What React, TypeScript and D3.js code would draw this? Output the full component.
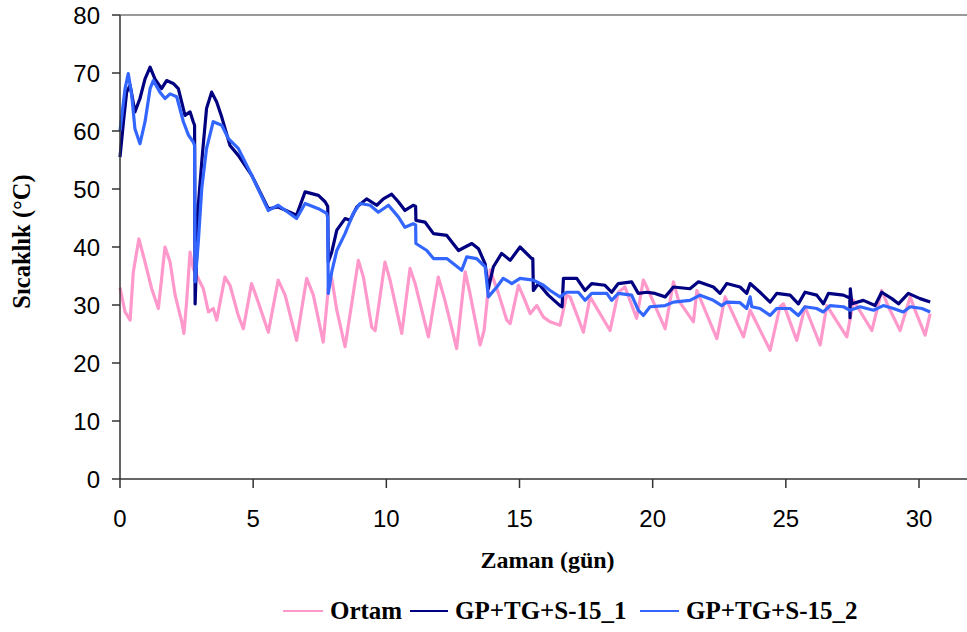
import React from "react";
import * as d3 from "d3";

// Ambient temperature (Ortam)
const ortamDays = [0, 0.19, 0.38, 0.5, 0.71, 0.94, 1.19, 1.44, 1.69, 1.88, 2.07, 2.32, 2.4, 2.5, 2.63, 2.75, 2.88, 3.13, 3.32, 3.5, 3.63, 3.94, 4.13, 4.44, 4.63, 4.94, 5.19, 5.57, 5.94, 6.2, 6.63, 7.01, 7.26, 7.63, 7.82, 7.95, 8.14, 8.45, 8.7, 8.95, 9.14, 9.45, 9.58, 9.95, 10.14, 10.58, 10.89, 11.08, 11.58, 11.95, 12.2, 12.64, 12.96, 13.14, 13.52, 13.67, 13.9, 14.21, 14.52, 14.65, 14.96, 15.15, 15.4, 15.65, 15.9, 16.15, 16.52, 16.77, 16.9, 17.4, 17.65, 18.4, 18.71, 18.96, 19.4, 19.65, 19.78, 20.47, 20.78, 20.97, 21.53, 21.66, 22.41, 22.72, 23.41, 23.66, 23.91, 24.41, 24.78, 24.91, 25.41, 25.72, 26.29, 26.54, 27.29, 27.54, 28.23, 28.6, 28.85, 29.29, 29.67, 29.85, 30.23, 30.42];
const ortamTemps = [33.0, 28.8, 27.4, 35.7, 41.4, 37.4, 32.8, 29.4, 40.0, 37.4, 31.7, 27.1, 25.1, 30.5, 39.1, 36.3, 35.1, 32.8, 28.8, 29.4, 27.4, 34.8, 33.4, 28.2, 25.9, 33.7, 30.5, 25.3, 34.3, 31.7, 23.9, 34.6, 31.7, 23.6, 32.8, 34.6, 29.1, 22.8, 30.2, 37.7, 34.8, 26.2, 25.6, 37.4, 34.3, 25.1, 36.3, 33.7, 24.5, 34.8, 30.8, 22.5, 35.7, 32.0, 23.1, 25.6, 36.0, 32.0, 27.4, 26.8, 33.4, 31.4, 28.5, 29.9, 27.9, 27.1, 26.5, 31.7, 31.4, 25.3, 31.4, 25.6, 32.2, 33.1, 27.7, 34.3, 33.1, 25.9, 34.0, 30.8, 27.1, 32.5, 24.2, 31.4, 24.5, 29.1, 26.8, 22.2, 29.7, 30.2, 23.9, 29.7, 23.1, 29.9, 24.5, 30.8, 25.6, 32.5, 29.7, 25.6, 31.4, 29.1, 24.8, 28.5];

// GP+TG+S-15_1
const s1Days = [0, 0.13, 0.25, 0.38, 0.56, 0.75, 0.94, 1.13, 1.31, 1.56, 1.75, 2.0, 2.19, 2.44, 2.63, 2.75, 2.8, 2.82, 2.94, 3.09, 3.25, 3.44, 3.63, 3.82, 4.13, 4.44, 4.94, 5.57, 5.94, 6.63, 6.95, 7.45, 7.7, 7.8, 7.82, 7.95, 8.14, 8.45, 8.64, 8.89, 9.26, 9.64, 9.89, 10.2, 10.45, 10.7, 11.01, 11.1, 11.11, 11.45, 11.77, 12.27, 12.71, 13.21, 13.46, 13.71, 13.83, 14.02, 14.33, 14.65, 15.02, 15.46, 15.5, 15.52, 15.71, 16.08, 16.52, 16.6, 16.65, 17.15, 17.46, 17.71, 18.21, 18.46, 18.71, 19.21, 19.46, 19.78, 20.09, 20.47, 20.78, 21.4, 21.72, 22.28, 22.53, 22.78, 23.28, 23.53, 23.66, 24.03, 24.41, 24.66, 25.16, 25.47, 25.72, 26.16, 26.41, 26.6, 27.16, 27.4, 27.41, 27.42, 27.48, 27.91, 28.35, 28.6, 28.98, 29.23, 29.6, 30.04, 30.42];
const s1Temps = [55.5, 61.6, 66.7, 67.9, 63.3, 65.6, 69.0, 71.0, 69.0, 67.3, 68.7, 68.2, 67.3, 62.7, 63.3, 61.6, 61.0, 30.2, 47.2, 55.8, 63.9, 66.7, 65.0, 62.4, 57.5, 55.8, 52.4, 46.6, 46.9, 45.5, 49.5, 48.9, 47.8, 47.0, 37.4, 39.1, 42.9, 44.9, 44.6, 46.9, 48.3, 47.2, 48.3, 49.1, 47.8, 46.3, 47.2, 47.0, 44.6, 44.3, 42.3, 42.0, 39.4, 40.6, 39.7, 37.1, 32.8, 36.6, 38.9, 37.7, 40.0, 38.0, 38.0, 32.5, 33.7, 31.7, 29.9, 29.7, 34.6, 34.6, 32.5, 33.7, 33.4, 32.2, 33.7, 34.0, 32.0, 32.2, 32.0, 31.4, 33.1, 32.8, 34.0, 33.1, 32.0, 33.7, 33.1, 32.0, 33.7, 32.2, 30.5, 32.0, 31.7, 30.2, 32.2, 31.7, 30.2, 32.0, 31.7, 31.2, 27.8, 32.8, 30.2, 30.8, 29.9, 32.2, 31.1, 30.2, 32.0, 31.1, 30.5];

// GP+TG+S-15_2
const s2Days = [0, 0.19, 0.31, 0.44, 0.56, 0.75, 0.94, 1.13, 1.25, 1.5, 1.69, 1.88, 2.13, 2.38, 2.57, 2.75, 2.8, 2.82, 2.94, 3.07, 3.25, 3.5, 3.82, 4.07, 4.44, 4.94, 5.57, 5.94, 6.63, 6.95, 7.45, 7.76, 7.8, 7.82, 7.95, 8.14, 8.45, 8.76, 9.01, 9.39, 9.7, 10.08, 10.45, 10.7, 11.01, 11.1, 11.11, 11.52, 11.77, 12.27, 12.83, 13.02, 13.39, 13.71, 13.83, 14.15, 14.39, 14.71, 15.02, 15.52, 15.9, 16.15, 16.52, 16.77, 17.21, 17.46, 17.71, 18.28, 18.46, 18.71, 19.21, 19.46, 19.65, 19.9, 20.47, 20.78, 21.4, 21.78, 22.28, 22.59, 22.78, 23.28, 23.53, 23.66, 23.72, 24.03, 24.41, 24.66, 25.16, 25.47, 25.72, 26.16, 26.41, 26.66, 27.16, 27.41, 27.79, 28.29, 28.66, 29.04, 29.41, 29.67, 30.11, 30.42];
const s2Temps = [60.0, 67.3, 69.9, 66.2, 60.4, 57.8, 61.6, 67.3, 68.7, 66.7, 65.6, 66.4, 65.9, 61.6, 59.3, 58.1, 57.5, 34.0, 40.9, 50.1, 57.0, 61.6, 61.0, 58.7, 57.0, 52.4, 46.3, 47.2, 44.9, 47.5, 46.6, 45.8, 45.0, 32.0, 35.7, 39.4, 42.3, 45.8, 47.5, 47.2, 46.0, 47.2, 45.2, 43.4, 44.0, 43.8, 40.6, 39.4, 38.0, 38.0, 36.0, 38.3, 38.0, 36.6, 31.4, 33.1, 34.6, 33.7, 34.6, 34.3, 33.4, 32.5, 31.4, 32.2, 32.2, 30.8, 32.0, 32.0, 30.8, 32.0, 31.7, 29.1, 28.2, 29.7, 29.9, 30.5, 30.8, 31.7, 30.8, 29.9, 30.5, 30.4, 29.4, 31.4, 29.7, 29.4, 28.2, 29.4, 29.4, 28.2, 29.7, 29.4, 28.8, 29.9, 29.7, 29.1, 29.7, 29.1, 29.9, 29.4, 28.8, 29.7, 29.4, 28.8];

const xTicks = [0, 5, 10, 15, 20, 25, 30];
const yTicks = [0, 10, 20, 30, 40, 50, 60, 70, 80];

const seriesNames = ["Ortam", "GP+TG+S-15_1", "GP+TG+S-15_2"];
const seriesColors = ["#FF99CC", "#000080", "#3366FF"];

const W = 967;
const H = 632;
const left = 120;
const top = 15;
const bottom = 479;

const x = d3.scaleLinear().domain([0, 30]).range([left, 919]);
const y = d3.scaleLinear().domain([0, 80]).range([bottom, top]);

type Pt = { day: number; temp: number };
const zip = (days: number[], temps: number[]): Pt[] =>
  days.map((d, i) => ({ day: d, temp: temps[i] }));

const series: Pt[][] = [
  zip(ortamDays, ortamTemps),
  zip(s1Days, s1Temps),
  zip(s2Days, s2Temps),
];

const line = d3
  .line<Pt>()
  .x((d) => x(d.day))
  .y((d) => y(d.temp));

const serif = "'Liberation Serif', 'Times New Roman', serif";
const sans = "'Liberation Sans', Arial, sans-serif";

// legend layout: [line start, line end, text start]
const legendSlots = [
  [283, 323, 330],
  [410, 448, 455],
  [640, 679, 686],
];

export default function App() {
  return (
    <svg
      width={W}
      height={H}
      style={{ position: "absolute", left: 0, top: 0, background: "#fff" }}
    >
      {/* top border of plot area */}
      <line x1={left} x2={W} y1={top} y2={top} stroke="#999" strokeWidth={2} />

      {/* series */}
      {series.map((pts, i) => (
        <path
          key={seriesNames[i]}
          d={line(pts) || ""}
          fill="none"
          stroke={seriesColors[i]}
          strokeWidth={3.2}
          strokeLinejoin="round"
        />
      ))}

      {/* y axis */}
      <line x1={left} x2={left} y1={top} y2={bottom} stroke="#333" strokeWidth={1.5} />
      {yTicks.map((t) => (
        <g key={"y" + t}>
          <line x1={left - 8} x2={left} y1={y(t)} y2={y(t)} stroke="#333" strokeWidth={1.5} />
          <text
            x={100}
            y={y(t)}
            dy="0.36em"
            textAnchor="end"
            fontFamily={sans}
            fontSize={24}
            fill="#000"
          >
            {t}
          </text>
        </g>
      ))}

      {/* x axis */}
      <line x1={left} x2={W} y1={bottom} y2={bottom} stroke="#333" strokeWidth={1.5} />
      {xTicks.map((t) => (
        <g key={"x" + t}>
          <line x1={x(t)} x2={x(t)} y1={bottom} y2={bottom + 9} stroke="#333" strokeWidth={1.5} />
          <text
            x={x(t)}
            y={527}
            textAnchor="middle"
            fontFamily={sans}
            fontSize={24}
            fill="#000"
          >
            {t}
          </text>
        </g>
      ))}

      {/* axis titles */}
      <text
        transform="translate(30,241.5) rotate(-90)"
        textAnchor="middle"
        fontFamily={serif}
        fontWeight="bold"
        fontSize={24.5}
        fill="#000"
      >
        Sıcaklık (°C)
      </text>
      <text
        x={547.6}
        y={568}
        textAnchor="middle"
        fontFamily={serif}
        fontWeight="bold"
        fontSize={24}
        fill="#000"
      >
        Zaman (gün)
      </text>

      {/* legend */}
      {seriesNames.map((name, i) => (
        <g key={"lg" + name}>
          <line
            x1={legendSlots[i][0]}
            x2={legendSlots[i][1]}
            y1={611}
            y2={611}
            stroke={seriesColors[i]}
            strokeWidth={2}
          />
          <text
            x={legendSlots[i][2]}
            y={619}
            fontFamily={serif}
            fontWeight="bold"
            fontSize={25}
            fill="#000"
          >
            {name}
          </text>
        </g>
      ))}
    </svg>
  );
}
